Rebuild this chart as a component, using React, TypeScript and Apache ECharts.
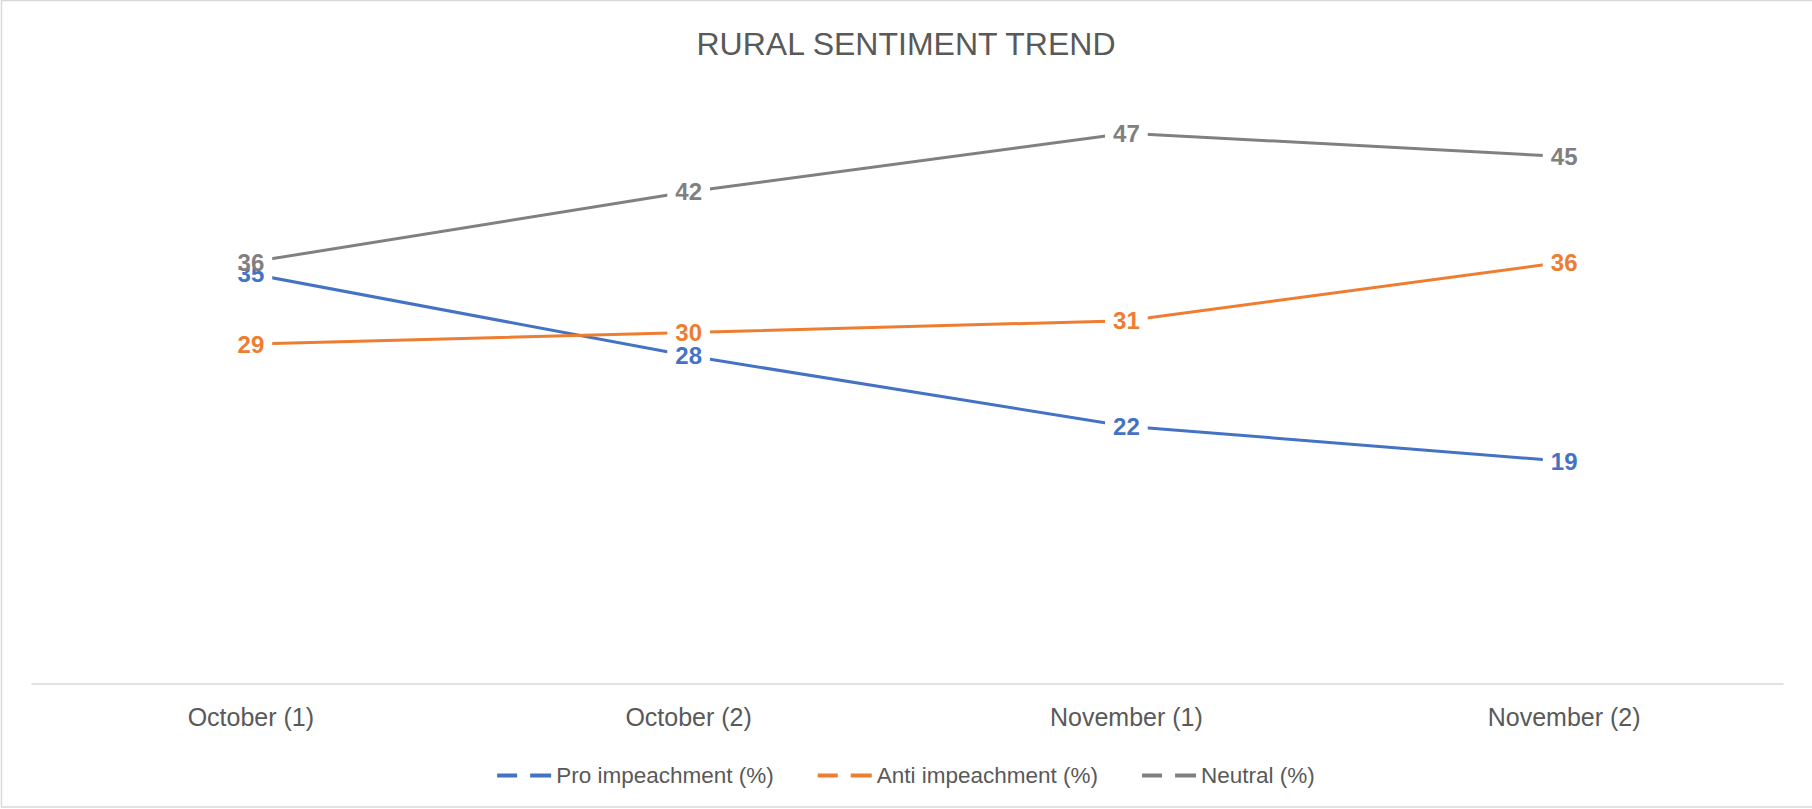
import React, { useEffect, useRef } from "react";
import * as echarts from "echarts";

const categories = ["October (1)", "October (2)", "November (1)", "November (2)"];
const proImpeachment = [35, 28, 22, 19];
const antiImpeachment = [29, 30, 31, 36];
const neutral = [36, 42, 47, 45];
const seriesNames = ["Pro impeachment (%)", "Anti impeachment (%)", "Neutral (%)"];
const seriesColors = ["#4472C4", "#ED7D31", "#808080"];

const FONT = "'Liberation Sans', Arial, sans-serif";

export default function App() {
  const ref = useRef<HTMLDivElement>(null);

  useEffect(() => {
    document.body.style.margin = "0";
    if (!ref.current) return;
    const chart = echarts.init(ref.current, null, { renderer: "svg" });
    const values = [proImpeachment, antiImpeachment, neutral];
    const option = {
      animation: false,
      backgroundColor: "#ffffff",
      textStyle: { fontFamily: FONT },
      title: {
        text: "RURAL SENTIMENT TREND",
        left: "center",
        top: 23,
        textStyle: { fontFamily: FONT, fontSize: 32, fontWeight: "normal", color: "#595959" },
      },
      legend: {
        top: 759,
        left: "center",
        itemWidth: 54,
        itemHeight: 4,
        itemGap: 44,
        icon: "path://M0,0h20v4h-20z M33,0h21v4h-21z",
        textStyle: { fontFamily: FONT, fontSize: 22.5, color: "#595959" },
        data: seriesNames,
      },
      grid: { left: 32, right: 29, top: 98, bottom: 125, containLabel: false },
      xAxis: {
        type: "category",
        data: categories,
        boundaryGap: true,
        axisLine: { show: true, lineStyle: { color: "#d9d9d9", width: 1.5 } },
        axisTick: { show: false },
        axisLabel: { fontFamily: FONT, fontSize: 25, color: "#595959", margin: 20 },
        splitLine: { show: false },
      },
      yAxis: {
        type: "value",
        min: 0,
        max: 50,
        show: false,
        splitLine: { show: false },
      },
      graphic: [
        {
          type: "rect",
          shape: { x: 1.5, y: 0.5, width: 1815, height: 806.5 },
          style: { fill: "none", stroke: "#d9d9d9", lineWidth: 1.5 },
          silent: true,
          z: -10,
        },
      ],
      series: seriesNames.map((name, i) => ({
        name,
        type: "line",
        data: values[i],
        symbol: "circle",
        symbolSize: 0,
        showSymbol: true,
        color: seriesColors[i],
        lineStyle: { color: seriesColors[i], width: 3 },
        itemStyle: { color: seriesColors[i] },
        label: {
          show: true,
          position: "inside",
          fontFamily: FONT,
          fontSize: 24,
          fontWeight: "bold",
          color: seriesColors[i],
          backgroundColor: "#ffffff",
          padding: [0, 8, 0, 8],
          lineHeight: 12,
        },
        emphasis: { disabled: true },
      })),
    };
    chart.setOption(option as any);
    return () => {
      chart.dispose();
    };
  }, []);

  return <div ref={ref} style={{ width: 1812, height: 809 }} />;
}
